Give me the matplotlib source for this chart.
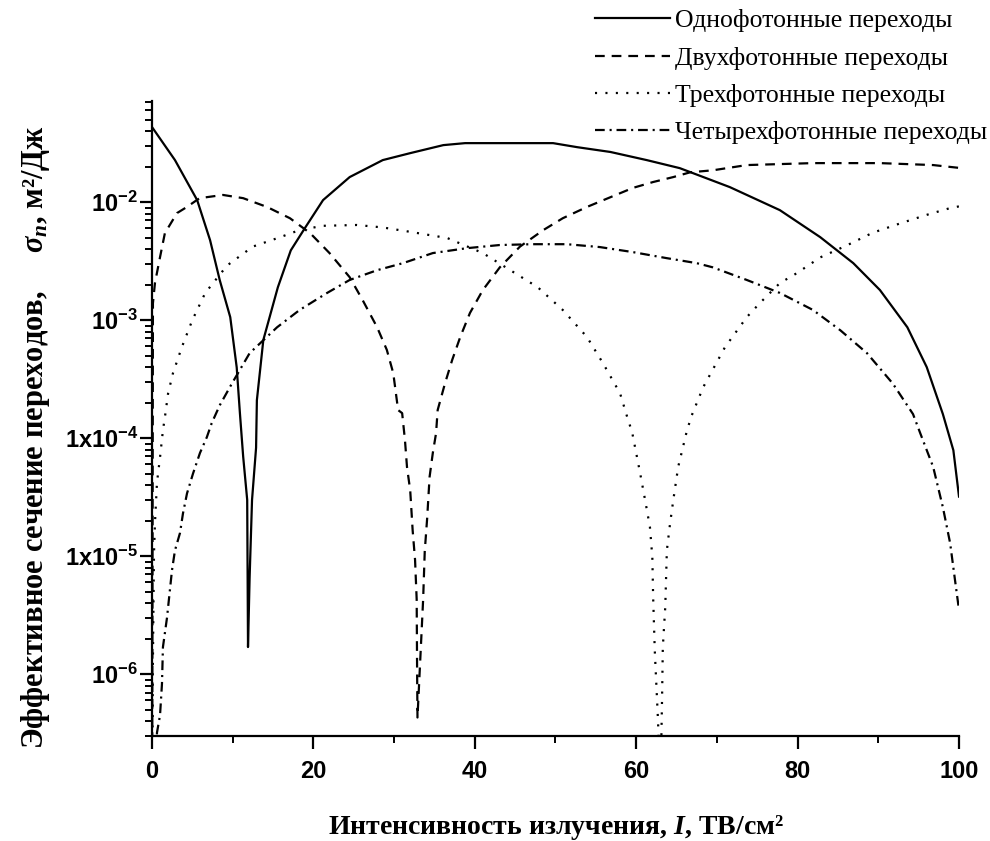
import matplotlib
matplotlib.use("Agg")
import matplotlib.pyplot as plt
from matplotlib.ticker import FixedLocator, LogLocator, NullFormatter, MultipleLocator

plt.rcParams['font.family'] = ['Liberation Serif', 'DejaVu Serif']
plt.rcParams['mathtext.fontset'] = 'custom'
plt.rcParams['mathtext.rm'] = 'Liberation Serif:bold'
plt.rcParams['mathtext.it'] = 'Liberation Serif:italic:bold'
plt.rcParams['mathtext.bf'] = 'Liberation Serif:bold'
plt.rcParams['mathtext.sf'] = 'Liberation Sans:bold'
plt.rcParams['lines.scale_dashes'] = False

# ---- data ----
x1 = [0, 2.85, 5.6, 7.2, 8.4, 9.7, 10.5, 10.9, 11.3, 11.8, 11.9, 12.1, 12.4, 12.9, 13.0,
      13.8, 15.6, 17.2, 19.0, 21.2, 24.5, 28.6, 32.0, 36.1, 38.8, 44.0, 49.7, 52.7, 56.8,
      61.3, 65.4, 71.6, 77.8, 82.8, 86.9, 90.2, 93.6, 96.0, 98.0, 99.3, 100]
y1 = [0.0433, 0.0227, 0.0104, 0.00476, 0.00218, 0.00106, 3.98e-4, 1.62e-4, 7.0e-5, 3.0e-5,
      1.7e-6, 6.6e-6, 3.0e-5, 8.3e-5, 2.1e-4,
      6.8e-4, 1.9e-3, 3.9e-3, 6.1e-3, 0.0104, 0.0163, 0.0227, 0.026, 0.0304, 0.0316, 0.0316,
      0.0316, 0.0292, 0.0266, 0.0227, 0.0194, 0.0134, 0.00855, 0.00505, 0.00304, 0.0018,
      8.7e-4, 4.0e-4, 1.6e-4, 7.9e-5, 3.2e-5]

x2 = [0, 0.12, 0.37, 1.0, 1.6, 3.1, 4.3, 5.9, 8.8, 11.3, 14.3, 17.1, 19.6, 22.0, 24.5, 26.1,
      27.9, 29.1, 29.9, 30.5, 31.0, 31.35, 31.6, 32.0, 32.3, 32.6, 32.8, 32.85, 32.9,
      33.2, 33.6, 33.8, 34.1, 34.4, 34.8, 35.2, 35.4, 36.3, 37.2, 38.2, 39.4, 41.0, 43.1,
      45.6, 48.5, 50.9, 53.9, 56.8, 59.6, 62.1, 64.6, 66.7, 69.5, 73.7, 81.9, 90.2, 96.8, 100]
y2 = [1e-8, 1.39e-3, 2.06e-3, 3.42e-3, 5.46e-3, 8.07e-3, 9.07e-3, 0.0108, 0.0115, 0.0108,
      9.07e-3, 7.3e-3, 5.46e-3, 3.7e-3, 2.31e-3, 1.48e-3, 8.7e-4, 5.6e-4, 3.55e-4, 1.73e-4,
      1.63e-4, 9.6e-5, 5.7e-5, 3.6e-5, 1.66e-5, 9.3e-6, 4.3e-6, 1.15e-6, 4.3e-7,
      1.15e-6, 4.3e-6, 1.1e-5, 2.1e-5, 4.7e-5, 7.5e-5, 1.1e-4, 1.73e-4, 2.9e-4, 4.6e-4,
      7.2e-4, 1.15e-3, 1.8e-3, 2.8e-3, 4.2e-3, 5.8e-3, 7.3e-3, 9.1e-3, 0.0110, 0.0132,
      0.0148, 0.0163, 0.0179, 0.0186, 0.0206, 0.0214, 0.0214, 0.0206, 0.0195]

x3 = [0, 0.1, 0.25, 0.37, 0.62, 1.0, 1.36, 1.6, 2.0, 2.6, 3.7, 5.0, 6.6, 9.3, 12.5, 15.9,
      18.3, 21.2, 25.4, 28.6, 32.0, 36.6, 41.0, 44.4, 47.8, 50.9, 53.9, 55.9, 58.0, 58.9,
      59.5, 60.5, 61.1, 61.7, 62.0, 62.1, 62.3, 62.7, 63.0,
      63.2, 63.3, 63.6, 63.8, 64.2, 64.6, 65.2, 65.7, 66.3, 66.9, 68.3, 71.0, 73.7, 75.3,
      77.8, 79.9, 82.8, 86.1, 89.3, 92.7, 96.0, 98.9, 100]
y3 = [1e-9, 1e-6, 1.06e-5, 1.9e-5, 4.2e-5, 6.9e-5, 1.17e-4, 1.5e-4, 2.4e-4, 3.55e-4, 5.9e-4,
      1.0e-3, 1.7e-3, 2.9e-3, 4.2e-3, 5.05e-3, 5.8e-3, 6.3e-3, 6.4e-3, 6.1e-3, 5.6e-3,
      4.96e-3, 3.7e-3, 2.65e-3, 1.9e-3, 1.22e-3, 7.2e-4, 4.3e-4, 2.4e-4, 1.5e-4,
      1.12e-4, 5.0e-5, 3.0e-5, 1.77e-5, 9.8e-6, 4.5e-6, 1.6e-6, 4.1e-7, 1e-7,
      6e-7, 1.7e-6, 3.7e-6, 1.12e-5, 1.9e-5, 3.0e-5, 5.7e-5, 7.9e-5, 1.17e-4, 1.57e-4,
      2.7e-4, 5.9e-4, 1.06e-3, 1.39e-3, 2.06e-3, 2.5e-3, 3.4e-3, 4.3e-3, 5.5e-3, 6.6e-3,
      7.8e-3, 8.9e-3, 9.2e-3]

x4 = [0, 0.62, 1.0, 1.24, 1.36, 1.86, 2.48, 2.85, 3.47, 3.84, 4.34, 5.08, 5.95, 6.8, 7.4,
      8.4, 9.9, 12.1, 15.5, 18.3, 21.7, 24.5, 27.9, 31.1, 34.8, 39.0, 43.1, 47.2, 51.4,
      55.5, 59.6, 63.8, 67.5, 69.5, 73.7, 77.8, 81.9, 85.3, 88.6, 91.8, 94.3, 95.2, 96.8,
      98.0, 98.9, 99.5, 100]
y4 = [1e-9, 3.2e-7, 4.5e-7, 8.3e-7, 1.7e-6, 3.0e-6, 7.6e-6, 1.12e-5, 1.57e-5, 2.3e-5,
      3.4e-5, 5.0e-5, 7.5e-5, 1.02e-4, 1.34e-4, 1.9e-4, 2.9e-4, 5.25e-4, 8.7e-4, 1.22e-3,
      1.7e-3, 2.19e-3, 2.65e-3, 3.04e-3, 3.7e-3, 4.07e-3, 4.33e-3, 4.4e-3, 4.4e-3, 4.16e-3,
      3.77e-3, 3.35e-3, 3.04e-3, 2.8e-3, 2.19e-3, 1.7e-3, 1.22e-3, 8.2e-4, 5.25e-4, 2.9e-4,
      1.6e-4, 1.1e-4, 5.7e-5, 2.6e-5, 1.29e-5, 6.3e-6, 3.5e-6]

labels = ["Однофотонные переходы", "Двухфотонные переходы",
          "Трехфотонные переходы", "Четырехфотонные переходы"]

x_ticks = [0, 20, 40, 60, 80, 100]
x_ticklabels = ["0", "20", "40", "60", "80", "100"]
y_ticks = [1e-6, 1e-5, 1e-4, 1e-3, 1e-2]
y_ticklabels = [r"$\mathsf{10^{-6}}$", r"$\mathsf{1x10^{-5}}$", r"$\mathsf{1x10^{-4}}$",
                r"$\mathsf{10^{-3}}$", r"$\mathsf{10^{-2}}$"]

fig = plt.figure(figsize=(9.9, 8.41), dpi=100)
ax = fig.add_axes([0.1535, 0.1249, 0.8152, 0.7551])

lw = 1.6
l1, = ax.plot(x1, y1, color='black', lw=lw, linestyle='-')
l2, = ax.plot(x2, y2, color='black', lw=lw, linestyle=(0, (7, 5)))
l3, = ax.plot(x3, y3, color='black', lw=lw, linestyle=(0, (1.5, 6)))
l4, = ax.plot(x4, y4, color='black', lw=lw, linestyle=(0, (7, 3.5, 1.5, 3.5)))

ax.set_yscale('log')
ax.set_xlim(0, 100)
ax.set_ylim(3e-7, 0.072)

for s in ['top', 'right']:
    ax.spines[s].set_visible(False)
for s in ['left', 'bottom']:
    ax.spines[s].set_linewidth(1.6)

ax.xaxis.set_major_locator(FixedLocator(x_ticks))
ax.set_xticklabels(x_ticklabels)
ax.xaxis.set_minor_locator(MultipleLocator(10))
ax.yaxis.set_major_locator(FixedLocator(y_ticks))
ax.set_yticklabels(y_ticklabels)
ax.yaxis.set_minor_locator(LogLocator(base=10, subs=range(2, 10), numticks=20))
ax.yaxis.set_minor_formatter(NullFormatter())

ax.tick_params(axis='both', which='major', direction='out', length=9, width=1.6,
               labelsize=17)
ax.tick_params(axis='both', which='minor', direction='out', length=5, width=1.4)
ax.tick_params(axis='y', which='major', pad=1)
for lab in ax.get_xticklabels():
    lab.set_fontfamily('Liberation Sans')
    lab.set_fontweight('bold')
ax.tick_params(axis='x', which='major', pad=8)

ax.set_xlabel("Интенсивность излучения, $I$, ТВ/см²", fontsize=20, fontweight='bold',
              labelpad=22)
ax.set_ylabel("Эффективное сечение переходов,     $\\sigma_n$, м²/Дж", fontsize=22,
              fontweight='bold')
ax.yaxis.set_label_coords(-0.124, 0.47)

fig.legend([l1, l2, l3, l4], labels, loc='upper right', bbox_to_anchor=(0.997, 0.989),
           frameon=False, fontsize=18.5, handlelength=2.9, handletextpad=0.2,
           labelspacing=0.56, borderpad=0.0, borderaxespad=0.0)

fig.savefig("out.png", dpi=100)
